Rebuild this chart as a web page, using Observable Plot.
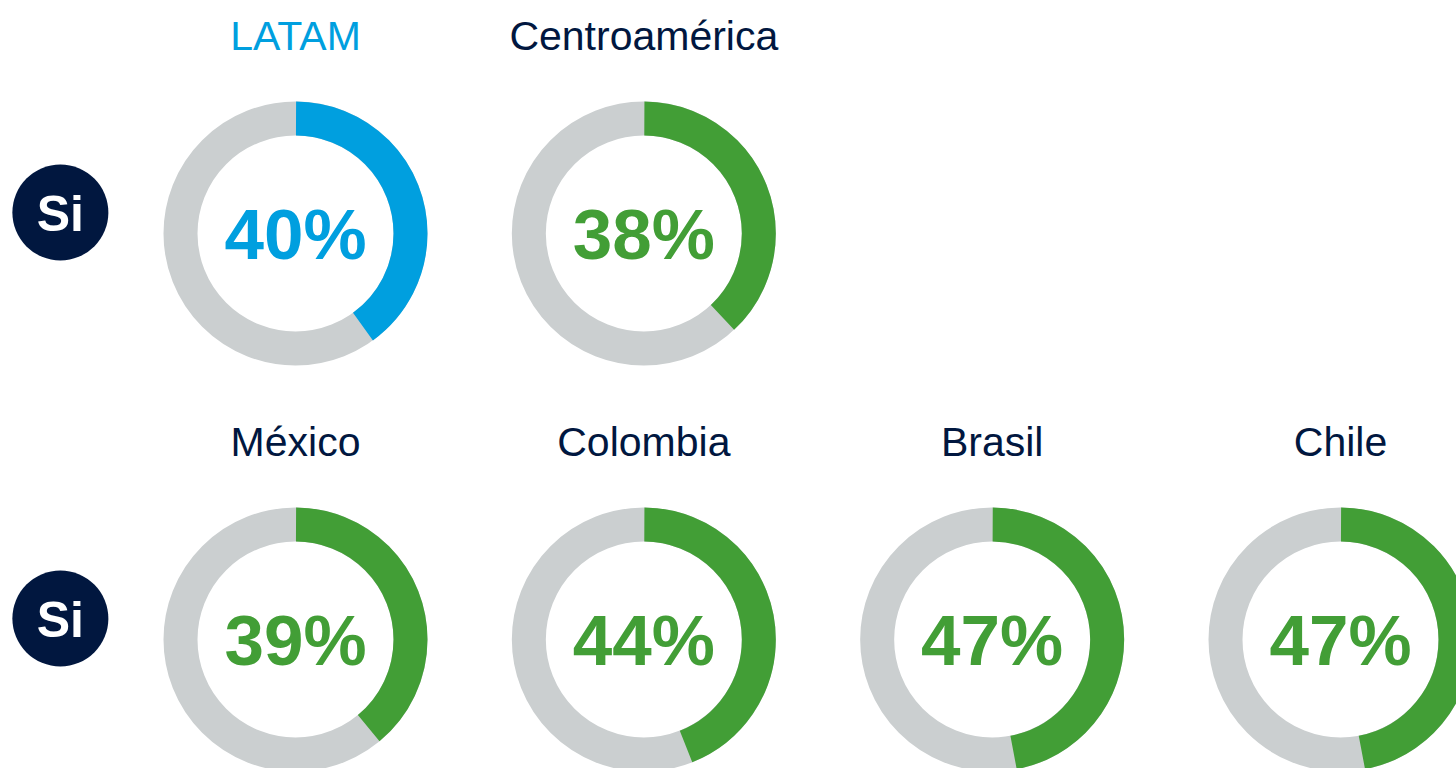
<!DOCTYPE html>
<html>
<head>
<meta charset="utf-8">
<script src="https://cdn.jsdelivr.net/npm/d3@7"></script>
<script src="https://cdn.jsdelivr.net/npm/@observablehq/plot@0.6"></script>
<style>
  html, body { margin: 0; padding: 0; background: #fff; overflow: hidden; }
</style>
</head>
<body>
<div id="chart"></div>
<script>
// Data
const regions = ["LATAM", "Centroamérica", "México", "Colombia", "Brasil", "Chile"];
const values = [40, 38, 39, 44, 47, 47];
const rowLabels = ["Si", "Si"];

// Layout (grid slots)
const cols = [0, 1, 0, 1, 2, 3];
const rows = [0, 0, 1, 1, 1, 1];

const BLUE = "#009FDF", GREEN = "#429E36", GRAY = "#CBCFD0", NAVY = "#01173F";

const items = regions.map((name, i) => ({
  name, value: values[i], col: cols[i], row: rows[i],
  color: i === 0 ? BLUE : GREEN,
  titleColor: i === 0 ? BLUE : NAVY
}));
const badges = rowLabels.map((label, i) => ({ label, row: i, col: -0.675 }));

const R = 115, SW = 34, C = 2 * Math.PI * R;

const arcMarks = items.map(d => Plot.dot([d], {
  x: "col", y: "row", r: R, fill: "none", stroke: d.color, strokeWidth: SW,
  strokeDasharray: `${d.value / 100 * C} ${(1 - d.value / 100) * C}`,
  strokeDashoffset: C / 4
}));

const chart = Plot.plot({
  width: 1456, height: 768, margin: 0,
  x: { domain: [0, 3], range: [295, 1340], axis: null },
  y: { domain: [0, 1], range: [233, 639], axis: null },
  color: { type: "identity" },
  style: { fontFamily: "'Liberation Sans', Arial, sans-serif", background: "#fff", overflow: "hidden" },
  marks: [
    Plot.dot(items, { x: "col", y: "row", r: R, fill: "none", stroke: GRAY, strokeWidth: SW }),
    ...arcMarks,
    Plot.text(items, {
      x: "col", y: "row", text: d => d.value + "%", fill: d => d.color,
      fontSize: 71, fontWeight: "bold", lineAnchor: "bottom", dy: 25
    }),
    Plot.text(items, {
      x: "col", y: "row", text: "name", fill: d => d.titleColor,
      fontSize: 41, lineAnchor: "bottom", dy: -184
    }),
    Plot.dot(badges, { x: "col", y: "row", r: 48, fill: NAVY, dy: -21 }),
    Plot.text(badges, {
      x: "col", y: "row", text: "label", fill: "#fff",
      fontSize: 50, fontWeight: "bold", lineAnchor: "bottom", dy: -3
    })
  ]
});
document.getElementById("chart").appendChild(chart);
</script>
</body>
</html>
